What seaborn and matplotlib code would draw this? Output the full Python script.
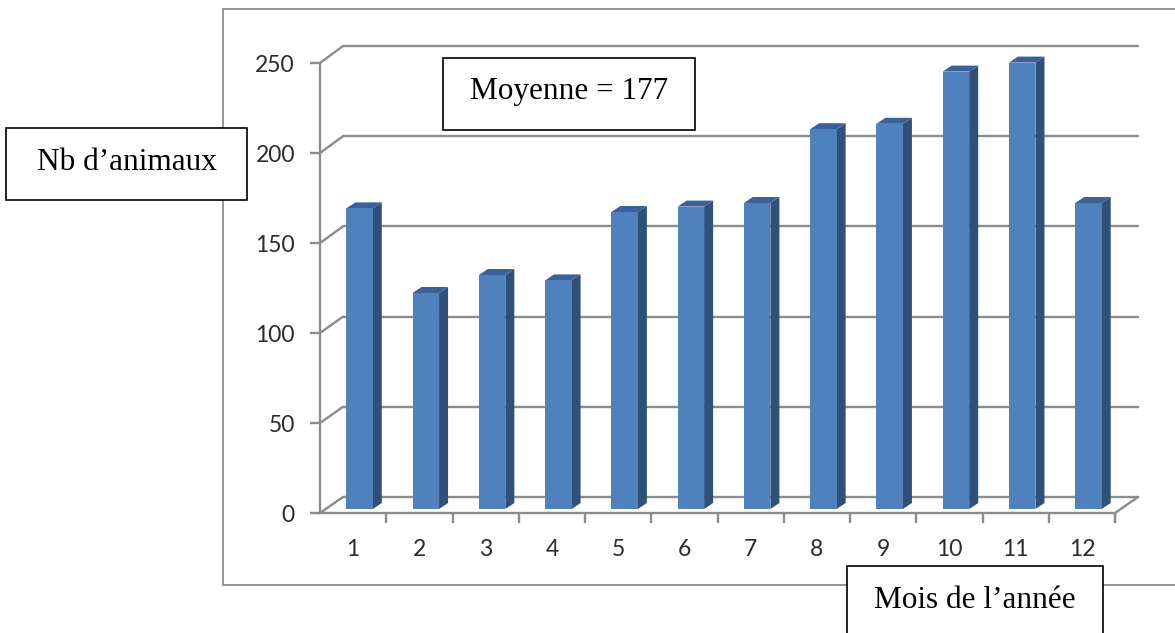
import matplotlib
matplotlib.use("Agg")
import matplotlib.pyplot as plt
import pandas as pd
import seaborn as sns
from matplotlib.patches import Polygon, Rectangle
from matplotlib.lines import Line2D
from matplotlib.transforms import IdentityTransform

# =====================================================
# DATA
# =====================================================

months = [1, 2, 3, 4, 5, 6, 7, 8, 9, 10, 11, 12]
animals = [167, 120, 130, 127, 165, 168, 170, 211, 214, 243, 248, 170]
y_ticks = [0, 50, 100, 150, 200, 250]

mean_label = "Moyenne = 177"
y_label = "Nb d\u2019animaux"
x_label = "Mois de l\u2019ann\u00e9e"

df = pd.DataFrame({"month": months, "animals": animals})

# =====================================================
# FIGURE + THREE PLANES (back wall, bars, front axes)
# =====================================================

W, H = 1175, 633
GRAY = "#8c8c8c"
FRONT = "#4f81bd"
SIDE = "#2f5079"
TOP = "#3a6298"

sns.set_theme(style="white")
plt.rcParams["font.family"] = ["Lato", "DejaVu Sans"]

fig = plt.figure(figsize=(W / 100, H / 100), dpi=100, facecolor="white")


def px_axes(left, top, right, bottom, z):
    a = fig.add_axes([left / W, 1 - bottom / H, (right - left) / W, (bottom - top) / H], zorder=z)
    a.set_xlim(-0.5, 11.5)
    a.set_ylim(0, 250)
    a.patch.set_alpha(0)
    return a


def box(x0, y0, x1, y1, label, text_y, z=10):
    fig.add_artist(Rectangle((x0 / W, 1 - y1 / H), (x1 - x0) / W, (y1 - y0) / H,
                             transform=fig.transFigure, fc="white", ec="black", lw=1.2, zorder=z))
    fig.text((x0 + x1) / 2 / W, 1 - text_y / H, label, ha="center", va="center",
             family="Liberation Serif", fontsize=22.5, color="black", zorder=z + 1)


# outer frame, open on the right side
for xs, ys in [((223, 223), (9, 585)), ((223, 1175), (9, 9)), ((223, 1175), (585, 585))]:
    fig.add_artist(Line2D([x / W for x in xs], [1 - y / H for y in ys], color="#868686", lw=1.2, zorder=0))

# back wall with gridlines
back = px_axes(343, 46, 1138, 497, 1)
back.set_xticks([])
back.set_yticks(y_ticks)
back.tick_params(left=False, labelleft=False)
back.grid(axis="y", color=GRAY, lw=1.7, clip_on=False)
back.set_axisbelow(True)
sns.despine(ax=back, left=True, bottom=True)
for line in back.get_ygridlines():
    line.set_clip_on(False)
for t in y_ticks:
    # depth connector from the front axis to the back wall
    v = 1 - (63 + (250 - t) * 1.8) / H
    v2 = 1 - (46 + (250 - t) * 1.804) / H
    fig.add_artist(Line2D([320 / W, 343 / W], [v, v2], color=GRAY, lw=1.7, zorder=1))
fig.add_artist(Line2D([1115 / W, 1138 / W], [1 - 513 / H, 1 - 497 / H], color=GRAY, lw=1.7, zorder=1))

# bars
ax = px_axes(326.4, 59, 1121.6, 509, 2)
sns.barplot(data=df, x=df["month"] - 1, y="animals", native_scale=True, width=0.4,
            color=FRONT, saturation=1, linewidth=0, ax=ax)
ax.set_xlim(-0.5, 11.5)
ax.set_ylim(0, 250)
ax.axis("off")

dx, dy = 9, 6
fig.canvas.draw()
for bar in ax.patches:
    (x0, y0), (x1, y1) = ax.transData.transform(
        [(bar.get_x(), 0), (bar.get_x() + bar.get_width(), bar.get_height())]
    )
    # side and top faces follow each bar's data height
    fig.add_artist(Polygon([(x1, y0), (x1 + dx, y0 + dy), (x1 + dx, y1 + dy), (x1, y1)],
                           transform=IdentityTransform(), fc=SIDE, ec="none", zorder=3))
    fig.add_artist(Polygon([(x0, y1), (x0 + dx, y1 + dy), (x1 + dx, y1 + dy), (x1, y1)],
                           transform=IdentityTransform(), fc=TOP, ec="none", zorder=3))
ax.set_zorder(4)

# front axes with tick labels
front = px_axes(320, 63, 1115, 513, 5)
front.set_xticks([i - 0.5 for i in months] + [11.5])
front.set_xticklabels([])
front.set_xticks(range(12), labels=months, minor=True)
front.set_yticks(y_ticks)
front.tick_params(axis="x", which="major", length=7, width=1.7, color=GRAY, bottom=True)
front.tick_params(axis="x", which="minor", length=0, labelsize=16.5, pad=19, labelcolor="#2b2b2b", bottom=True)
front.tick_params(axis="y", length=7, width=1.7, color=GRAY, labelsize=16.5, pad=11, labelcolor="#2b2b2b", left=True)
sns.despine(ax=front)
for side in ["left", "bottom"]:
    front.spines[side].set_color(GRAY)
    front.spines[side].set_linewidth(1.7)

# text boxes
box(6, 128, 247, 200, y_label, 163)
box(443, 58, 695, 130, mean_label, 92)
box(847, 566, 1103, 640, x_label, 601)

plt.savefig("out.png", dpi=100)
